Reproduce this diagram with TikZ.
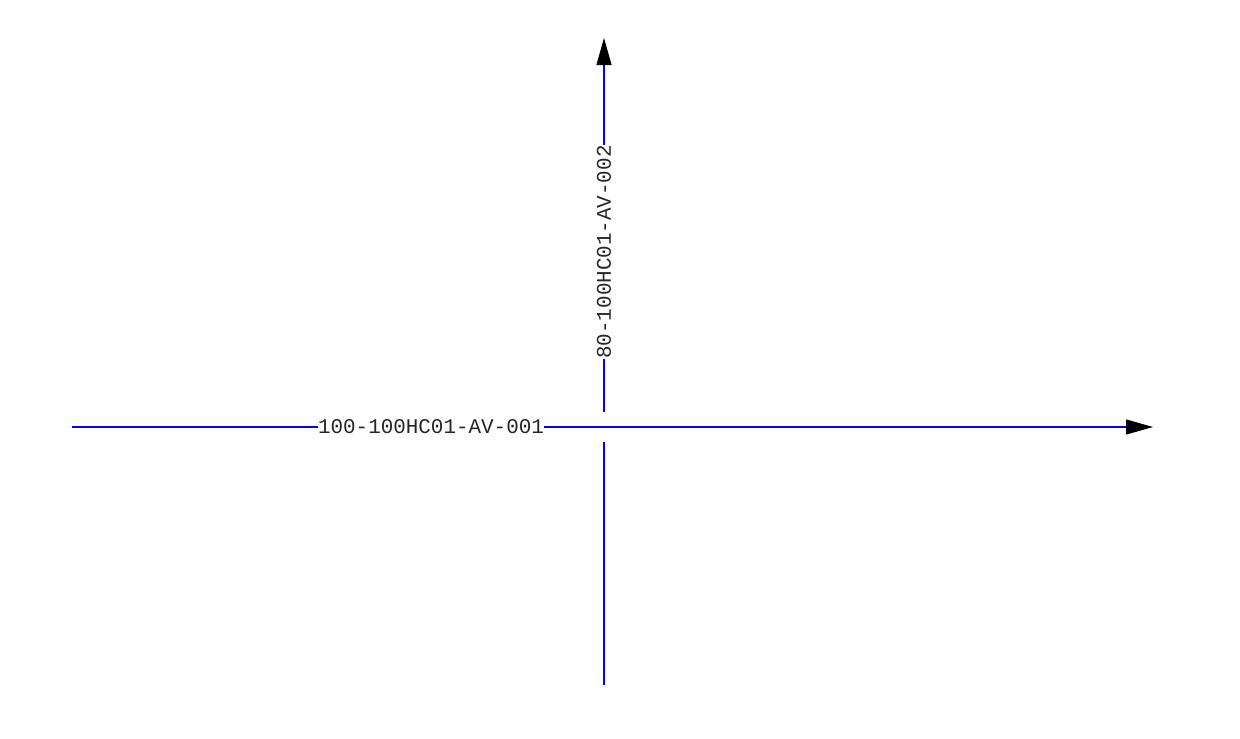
\documentclass[tikz,border=0pt]{standalone}
\usepackage{fontspec}
\setmonofont{Liberation Mono}
\usetikzlibrary{arrows.meta}
\tikzset{
  pipe/.style={blue, line width=0.6pt},
  flow/.style={pipe, -{Triangle[length=0.54cm, width=0.3cm, color=black]}},
  tag/.style={fill=white, inner sep=0pt, text=black!85, font=\ttfamily\fontsize{11.9}{14}\selectfont}
}
\begin{document}
\begin{tikzpicture}[x=0.02cm, y=-0.02cm]
                   \useasboundingbox (0,0) rectangle (1240,738);

                   \coordinate (w) at (72,427);
                   \coordinate (e) at (1153,427);
                   \coordinate (n) at (604,38);
                   \coordinate (s) at (604,685);
                   \coordinate (gapn) at (604,412);
                   \coordinate (gaps) at (604,442);

                   \draw[flow] (w) -- (e);
                   \draw[flow] (gapn) -- (n);
                   \draw[pipe] (gaps) -- (s);

                   \node[tag] (line1) at (431,427) {100-100HC01-AV-001};
                   \node[tag, rotate=90] (line2) at (604,252) {80-100HC01-AV-002};

        \end{tikzpicture}
\end{document}
